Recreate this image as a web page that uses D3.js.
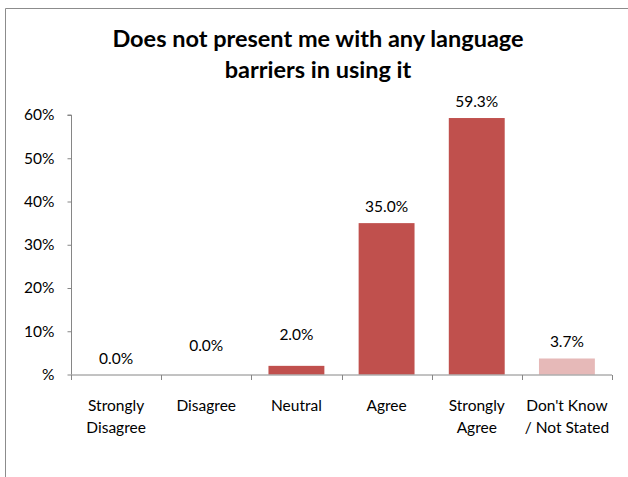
<!DOCTYPE html>
<html>
<head>
<meta charset="utf-8">
<script src="https://cdn.jsdelivr.net/npm/d3@7"></script>
<style>
  body { margin: 0; background: #fff; }
  svg { display: block; }
  text { font-family: Lato, "Open Sans", "Liberation Sans", sans-serif; fill: #000; }
</style>
</head>
<body>
<svg id="chart" width="628" height="477"></svg>
<script>
// Survey responses to the statement
const categories = [["Strongly", "Disagree"], ["Disagree"], ["Neutral"], ["Agree"], ["Strongly", "Agree"], ["Don't Know", "/ Not Stated"]];
const values = [0.0, 0.0, 2.0, 35.0, 59.3, 3.7];
const barColors = ["#C0504D", "#C0504D", "#C0504D", "#C0504D", "#C0504D", "#E6B9B8"];
const yTicks = [0, 10, 20, 30, 40, 50, 60];
const yTickLabels = ["%", "10%", "20%", "30%", "40%", "50%", "60%"];
const titleLines = ["Does not present me with any language", "barriers in using it"];

const svg = d3.select("#chart");

// frame
svg.append("path")
  .attr("d", "M5.5,477 V8.5 H628")
  .attr("fill", "none").attr("stroke", "#8c8c8c").attr("stroke-width", 1);

// title
svg.append("g").selectAll("text").data(titleLines).join("text")
  .attr("x", 318).attr("y", (d, i) => 47 + i * 31)
  .attr("text-anchor", "middle")
  .attr("font-size", 23.5).attr("font-weight", "bold")
  .text(d => d);

const plotLeft = 71, plotRight = 612, plotTop = 115, plotBottom = 374.5;
const x = d3.scaleBand().domain(d3.range(values.length)).range([plotLeft, plotRight]).paddingInner(0.38).paddingOuter(0.19);
const xTicksScale = d3.scaleLinear().domain([0, values.length]).range([plotLeft, plotRight]);
const y = d3.scaleLinear().domain([0, 60]).range([plotBottom, plotTop]);

// y axis
const yAxis = d3.axisLeft(y).tickValues(yTicks).tickFormat((d, i) => yTickLabels[i]).tickSize(4).tickPadding(13);
const gy = svg.append("g").attr("transform", `translate(${plotLeft + 0.5},0)`).call(yAxis);
gy.select(".domain").attr("stroke", "#868686").attr("d", `M-4,${y(60)}H0V${plotBottom}`);
gy.selectAll(".tick line").attr("stroke", "#868686");
gy.selectAll(".tick text").attr("font-size", 15.5).style("font-family", "Lato, 'Open Sans', sans-serif").attr("fill", "#000");

// bars
svg.append("g").selectAll("rect").data(values).join("rect")
  .attr("x", (d, i) => x(i))
  .attr("width", x.bandwidth())
  .attr("y", d => y(d))
  .attr("height", d => plotBottom - y(d))
  .attr("fill", (d, i) => barColors[i]);

// x axis
const gx = svg.append("g").attr("transform", `translate(0,${plotBottom + 0.5})`);
gx.append("line").attr("x1", plotLeft).attr("x2", plotRight).attr("stroke", "#868686");
gx.selectAll("line.tick").data(d3.range(values.length + 1)).join("line")
  .attr("class", "tick")
  .attr("x1", d => Math.round(xTicksScale(d)) + 0.5).attr("x2", d => Math.round(xTicksScale(d)) + 0.5)
  .attr("y1", 0).attr("y2", 5).attr("stroke", "#868686");

// category labels
const catG = svg.append("g").selectAll("text").data(categories).join("text")
  .attr("text-anchor", "middle").attr("font-size", 15.5)
  .attr("x", (d, i) => x(i) + x.bandwidth() / 2);
catG.selectAll("tspan").data(d => d).join("tspan")
  .attr("x", function () { return d3.select(this.parentNode).attr("x"); })
  .attr("y", (d, i) => 411 + i * 21.5)
  .text(d => d);

// value labels (a few lifted to keep small labels apart)
const labelLift = [0, 13, 15, 0, 0, 0];
svg.append("g").selectAll("text").data(values).join("text")
  .attr("text-anchor", "middle").attr("font-size", 15.5)
  .attr("x", (d, i) => x(i) + x.bandwidth() / 2)
  .attr("y", (d, i) => y(d) - 11 - labelLift[i])
  .text(d => d.toFixed(1) + "%");
</script>
</body>
</html>
